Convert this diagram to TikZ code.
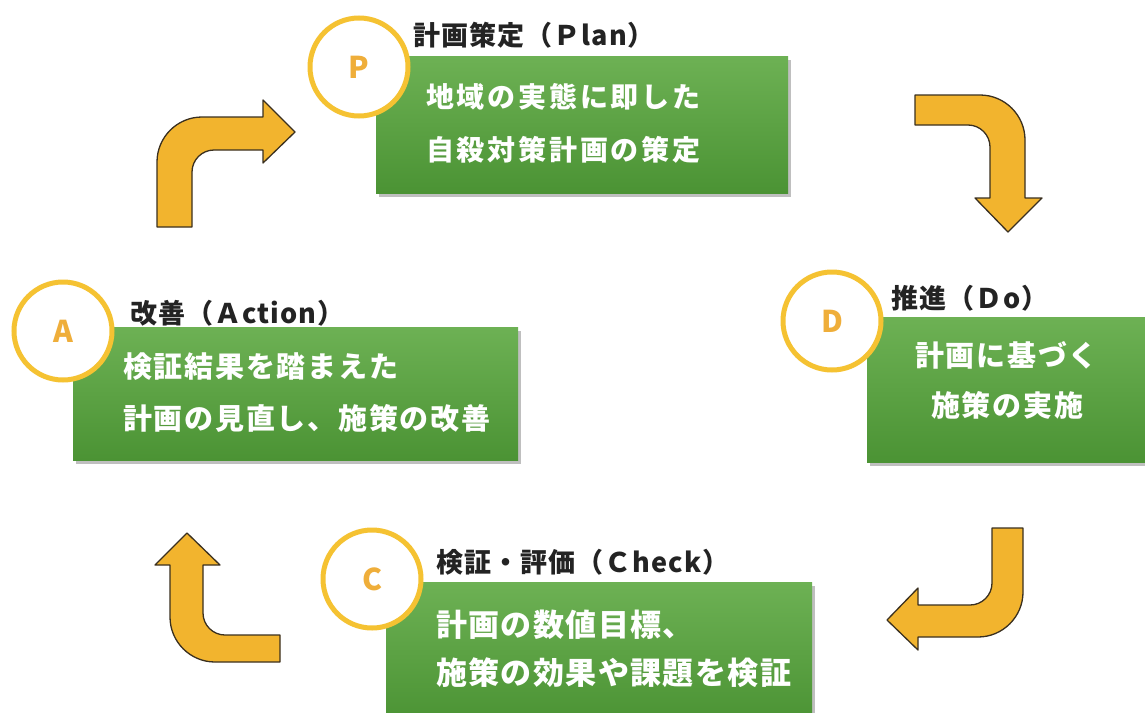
\documentclass[tikz,border=0pt]{standalone}
\usepackage{fontspec}
\newfontfamily\jp{Noto Sans CJK JP}
\newfontfamily\jpT{Noto Sans CJK JP}[LetterSpace=4]
\newfontfamily\jpP{Noto Sans CJK JP}[LetterSpace=10]
\newfontfamily\jpA{Noto Sans CJK JP}[LetterSpace=6]
\newfontfamily\jpC{Noto Sans CJK JP}[LetterSpace=4.5]
\usetikzlibrary{shadows}
\definecolor{arrowfill}{HTML}{F2B42E}
\definecolor{arrowline}{HTML}{3A3020}
\definecolor{ringcol}{HTML}{F5C232}
\definecolor{lettercol}{HTML}{EFAE3A}
\definecolor{gtop}{HTML}{6DB154}
\definecolor{gbot}{HTML}{4B9334}
\definecolor{titlecol}{HTML}{232323}
\tikzset{
  greenbox/.style={rectangle, inner sep=0, top color=gtop, bottom color=gbot, draw=none,
    drop shadow={shadow xshift=3pt, shadow yshift=-4pt, opacity=.25, fill=black}},
  ring/.style={circle, draw=ringcol, line width=5pt, fill=white, minimum size=98pt,
    inner sep=0, text=lettercol, font=\fontsize{30}{30}\selectfont\jp\bfseries},
  titletxt/.style={anchor=west, inner sep=0, text=titlecol, font=\fontsize{27}{28}\selectfont\jpT\bfseries},
  bodytxt/.style={anchor=west, inner sep=0, text=white},
  bigarrow/.style={fill=arrowfill, draw=arrowline, line width=1.3pt, line join=round}
}
\begin{document}
\begin{tikzpicture}[x=1pt,y=-1pt]
\useasboundingbox (0,0) rectangle (1145,712);
\clip (0,0) rectangle (1145,712);
\fill[white] (0,0) rectangle (1145,712);

% green boxes
\node[greenbox, minimum width=412pt, minimum height=137pt] (pbox) at (582,124.5) {};
\node[greenbox, minimum width=280pt, minimum height=145pt] (dbox) at (1007,389.5) {};
\node[greenbox, minimum width=445pt, minimum height=133pt] (abox) at (295.5,393.5) {};
\node[greenbox, minimum width=426pt, minimum height=140pt] (cbox) at (599,652) {};

% rings
\node[ring] (pring) at (359,67) {P};
\node[ring] (dring) at (832,321) {D};
\node[ring] (aring) at (63,331) {A};
\node[ring] (cring) at (372,579) {C};

% titles
\node[titletxt] (ptitle) at (413,35) {計画策定（Ｐlan）};
\node[titletxt] (dtitle) at (891,298) {推進（Ｄo）};
\node[titletxt] (atitle) at (130,313) {改善（Ａction）};
\node[titletxt] (ctitle) at (436,562) {検証・評価（Ｃheck）};

% body texts
\node[bodytxt, font=\fontsize{28}{30}\selectfont\jpP\bfseries] (pl1) at (426,97) {地域の実態に即した};
\node[bodytxt, font=\fontsize{28}{30}\selectfont\jpP\bfseries] (pl2) at (426,150) {自殺対策計画の策定};
\node[bodytxt, font=\fontsize{29}{30}\selectfont\jpA\bfseries] (dl1) at (915,355) {計画に基づく};
\node[bodytxt, font=\fontsize{29}{30}\selectfont\jpA\bfseries] (dl2) at (931,405) {施策の実施};
\node[bodytxt, font=\fontsize{29}{30}\selectfont\jpA\bfseries] (al1) at (123,367) {検証結果を踏まえた};
\node[bodytxt, font=\fontsize{29}{30}\selectfont\jpA\bfseries] (al2) at (123,418) {計画の見直し、施策の改善};
\node[bodytxt, font=\fontsize{31}{32}\selectfont\jpC\bfseries] (cl1) at (436,625) {計画の数値目標、};
\node[bodytxt, font=\fontsize{31}{32}\selectfont\jpC\bfseries] (cl2) at (436,673) {施策の効果や課題を検証};

% bent arrows
% A -> P
\path[bigarrow] (157,227) -- (157,162) .. controls (157,137.2) and (177.2,117) .. (202,117)
  -- (263,117) -- (263,100) -- (295,132) -- (263,163) -- (263,150) -- (214,150)
  .. controls (201.9,150) and (192,159.9) .. (192,172) -- (192,227) -- cycle;
% P -> D
\path[bigarrow] (915,95) -- (980,95) .. controls (1004.8,95) and (1025,115.2) .. (1025,140)
  -- (1025,198) -- (1042,198) -- (1008,232) -- (975,198) -- (990,198) -- (990,147)
  .. controls (990,134.9) and (980.1,125) .. (968,125) -- (915,125) -- cycle;
% D -> C
\path[bigarrow] (992,528) -- (1023,528) -- (1023,592) .. controls (1023,616.8) and (1002.8,637) .. (978,637)
  -- (918,637) -- (918,650) -- (887,620) -- (918,588) -- (918,605) -- (970,605)
  .. controls (982.1,605) and (992,595.1) .. (992,583) -- cycle;
% C -> A
\path[bigarrow] (280,662) -- (215,662) .. controls (190.2,662) and (170,641.8) .. (170,617)
  -- (170,565) -- (155,565) -- (187,533) -- (220,565) -- (203,565) -- (203,613)
  .. controls (203,625.1) and (212.9,635) .. (225,635) -- (280,635) -- cycle;
\end{tikzpicture}
\end{document}
